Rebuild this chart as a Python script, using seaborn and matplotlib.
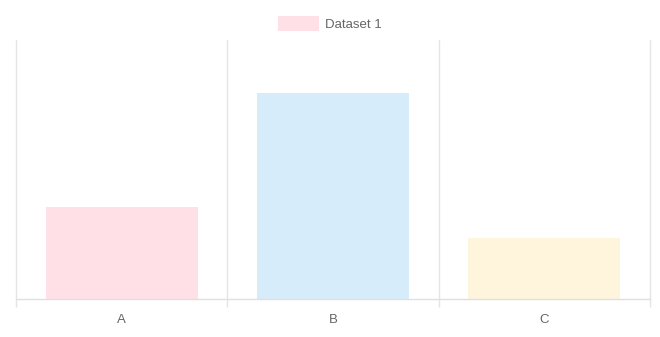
import matplotlib
matplotlib.use("Agg")
import matplotlib.pyplot as plt
import seaborn as sns
import pandas as pd
from matplotlib.patches import Patch

categories = ["A", "B", "C"]
values = [35.5, 79.5, 23.5]
colors = ["#ffe0e6", "#d7ecfb", "#fff5dd"]
series_name = "Dataset 1"

sns.set_theme(style="white")
plt.rcParams['font.family'] = ['Liberation Sans', 'DejaVu Sans']

fig = plt.figure(figsize=(6.6, 3.37), dpi=100)
ax = fig.add_axes([16/660, 1-299/337, (650-16)/660, (299-40)/337])

df = pd.DataFrame({"cat": categories, "val": values})
sns.barplot(data=df, x="cat", y="val", hue="cat", palette=colors, order=categories,
            width=0.72, legend=False, ax=ax, linewidth=0, saturation=1)

ax.set_ylim(0, 100)
ax.set_xlim(-0.5, 2.5)
ax.set_xlabel("")
ax.set_ylabel("")
ax.set_yticks([])
for s in ["top", "right", "left"]:
    ax.spines[s].set_visible(False)
ax.spines["bottom"].set_color("#e0e0e0")
ax.spines["bottom"].set_linewidth(1)

ax.set_xticks([0, 1, 2])
ax.set_xticklabels(categories)
ax.set_xticks([-0.5, 0.5, 1.5, 2.5], minor=True)
ax.tick_params(axis="x", which="major", length=0, pad=11, labelsize=9.5, labelcolor="#666666")
ax.tick_params(axis="x", which="minor", length=6, width=1, color="#e5e5e5", bottom=True)
ax.grid(False)
for xv in [-0.5, 0.5, 1.5, 2.5]:
    ax.axvline(xv, color="#e5e5e5", linewidth=1, zorder=0, clip_on=False)

handles = [Patch(facecolor=colors[0], edgecolor="none")]
fig.legend(handles, [series_name], loc="center", bbox_to_anchor=(0.5, 1-23.5/337),
           frameon=False, fontsize=9.5, labelcolor="#666666", handlelength=3.1,
           handleheight=1.3, handletextpad=0.5)

fig.savefig("out.png", dpi=100)
